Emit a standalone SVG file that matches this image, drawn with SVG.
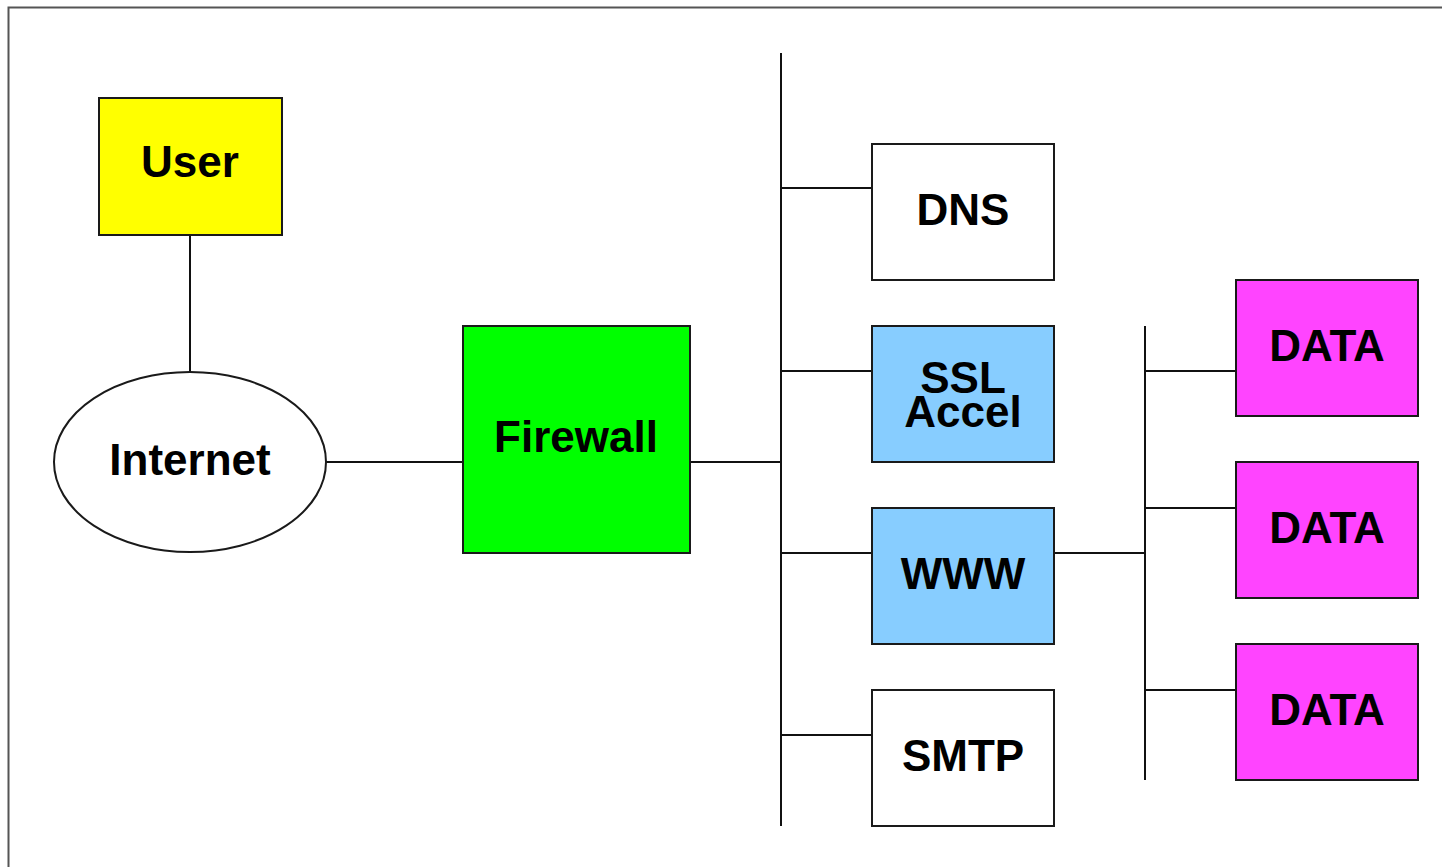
<svg xmlns="http://www.w3.org/2000/svg" width="1442" height="867" viewBox="0 0 1442 867">
  <style>
    .box { stroke: #1a1a1a; stroke-width: 2; }
    .wire { stroke: #111; stroke-width: 2; fill: none; }
    .lbl { font-family: "Liberation Sans", Arial, sans-serif; font-weight: bold; font-size: 44px; text-anchor: middle; fill: #000; }
    .frame { stroke: #555; stroke-width: 2; fill: none; }
  </style>
  <rect width="1442" height="867" fill="#fff"/>
  <path class="frame" d="M8.5,867 V7.5 H1442"/>

  <g id="connectors">
    <line class="wire" x1="190" y1="235" x2="190" y2="372"/>
    <line class="wire" x1="326" y1="462" x2="463" y2="462"/>
    <line class="wire" x1="690" y1="462" x2="781" y2="462"/>
    <line class="wire" x1="781" y1="53" x2="781" y2="826"/>
    <line class="wire" x1="781" y1="188" x2="872" y2="188"/>
    <line class="wire" x1="781" y1="371" x2="872" y2="371"/>
    <line class="wire" x1="781" y1="553" x2="872" y2="553"/>
    <line class="wire" x1="781" y1="735" x2="872" y2="735"/>
    <line class="wire" x1="1054" y1="553" x2="1145" y2="553"/>
    <line class="wire" x1="1145" y1="326" x2="1145" y2="780"/>
    <line class="wire" x1="1145" y1="371" x2="1236" y2="371"/>
    <line class="wire" x1="1145" y1="508" x2="1236" y2="508"/>
    <line class="wire" x1="1145" y1="690" x2="1236" y2="690"/>
  </g>

  <g id="user">
    <rect class="box" x="99" y="98" width="183" height="137" fill="#ffff00"/>
    <text class="lbl" x="190" y="177">User</text>
  </g>
  <g id="internet">
    <ellipse class="box" cx="190" cy="462" rx="136" ry="90" fill="#fff"/>
    <text class="lbl" x="190" y="475">Internet</text>
  </g>
  <g id="firewall">
    <rect class="box" x="463" y="326" width="227" height="227" fill="#00ff00"/>
    <text class="lbl" x="576" y="452">Firewall</text>
  </g>
  <g id="dns">
    <rect class="box" x="872" y="144" width="182" height="136" fill="#fff"/>
    <text class="lbl" x="963" y="225">DNS</text>
  </g>
  <g id="ssl-accel">
    <rect class="box" x="872" y="326" width="182" height="136" fill="#87cdff"/>
    <text class="lbl" x="963" y="393">SSL</text>
    <text class="lbl" x="963" y="427">Accel</text>
  </g>
  <g id="www">
    <rect class="box" x="872" y="508" width="182" height="136" fill="#87cdff"/>
    <text class="lbl" x="963" y="589">WWW</text>
  </g>
  <g id="smtp">
    <rect class="box" x="872" y="690" width="182" height="136" fill="#fff"/>
    <text class="lbl" x="963" y="771">SMTP</text>
  </g>
  <g id="data1">
    <rect class="box" x="1236" y="280" width="182" height="136" fill="#ff44ff"/>
    <text class="lbl" x="1327" y="361">DATA</text>
  </g>
  <g id="data2">
    <rect class="box" x="1236" y="462" width="182" height="136" fill="#ff44ff"/>
    <text class="lbl" x="1327" y="543">DATA</text>
  </g>
  <g id="data3">
    <rect class="box" x="1236" y="644" width="182" height="136" fill="#ff44ff"/>
    <text class="lbl" x="1327" y="725">DATA</text>
  </g>
</svg>
